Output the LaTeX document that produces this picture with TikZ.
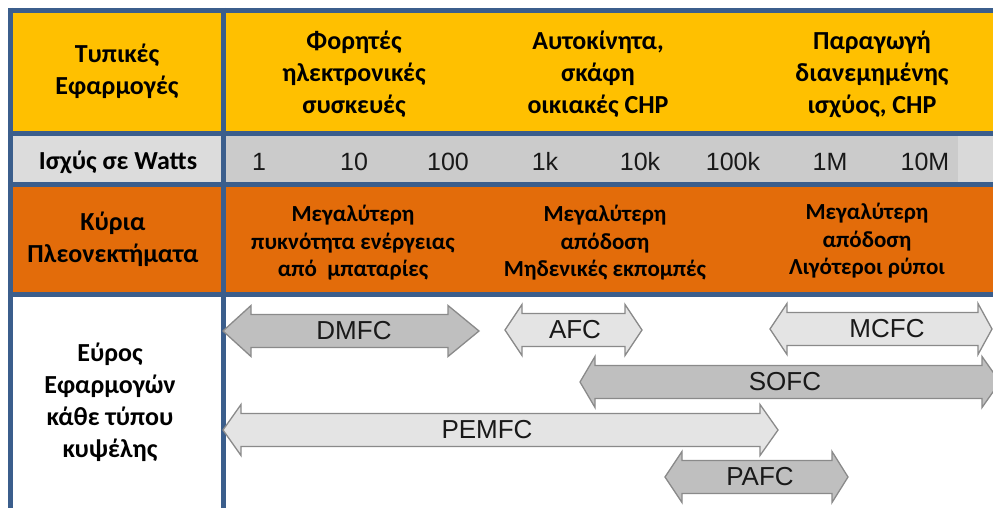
\documentclass[tikz,border=0pt]{standalone}
\usepackage{fontspec}
\setmainfont{Carlito}
\newfontfamily\arialf{Liberation Sans}
\definecolor{yel}{HTML}{FFC000}
\definecolor{org}{HTML}{E36C0A}
\definecolor{bl}{HTML}{3B5E8C}
\definecolor{greyL}{HTML}{DCDCDC}
\definecolor{greyD}{HTML}{CBCBCB}
\definecolor{greyR}{HTML}{D9D9D9}
\definecolor{arrD}{HTML}{BFBFBF}
\definecolor{arrL}{HTML}{E4E4E4}
\definecolor{arrO}{HTML}{8A8A8A}
\newcommand{\fcarrow}[6]{%
  \draw[#6] (#1,#3) -- ({#1+#4},{#3-25.5}) -- ({#1+#4},{#3-16.5}) -- ({#2-#5},{#3-16.5}) -- ({#2-#5},{#3-25.5}) -- (#2,#3) -- ({#2-#5},{#3+25.5}) -- ({#2-#5},{#3+16.5}) -- ({#1+#4},{#3+16.5}) -- ({#1+#4},{#3+25.5}) -- cycle;}
\begin{document}
\begin{tikzpicture}[x=1pt,y=-1pt,
  bline/.style={bl,line width=5pt},
  big/.style={font=\bfseries\fontsize{26}{32}\selectfont,align=center,inner sep=0pt,text=black},
  mid/.style={font=\bfseries\fontsize{23}{27.5}\selectfont,align=center,inner sep=0pt,text=black},
  num/.style={font=\arialf\fontsize{25}{30}\selectfont,inner sep=0pt,anchor=base,text=black!90},
  lab/.style={font=\arialf\fontsize{26}{30}\selectfont,inner sep=0pt,text=black!90},
  darr/.style={fill=arrD,draw=arrO,line width=1.3pt,line join=miter},
  larr/.style={fill=arrL,draw=arrO,line width=1.3pt,line join=miter}]
\useasboundingbox (0,0) rectangle (993,508);
% backgrounds
\fill[yel] (8,8) rectangle (993,134);
\fill[greyL] (8,134) rectangle (222,184);
\fill[greyD] (222,134) rectangle (958,184);
\fill[greyR] (958,134) rectangle (993,184);
\fill[org] (8,184) rectangle (993,294);
% grid lines
\draw[bline] (10.5,8) -- (10.5,508);
\draw[bline] (223.5,8) -- (223.5,508);
\draw[bline] (8,10.5) -- (993,10.5);
\draw[bline] (8,134) -- (993,134);
\draw[bline] (8,184.5) -- (993,184.5);
\draw[bline] (8,294.5) -- (993,294.5);
% row 1
\node[big] (t1) at (117,71) {Τυπικές\\Εφαρμογές};
\node[big] (a1) at (354,74) {Φορητές\\ηλεκτρονικές\\συσκευές};
\node[big] (a2) at (598,74) {Αυτοκίνητα,\\σκάφη\\οικιακές CHP};
\node[big] (a3) at (872,74) {Παραγωγή\\διανεμημένης\\ισχύος, CHP};
% row 2
\node[big,anchor=base] (t2) at (118,169) {Ισχύς σε Watts};
\node[num] (n1) at (259,170) {1};
\node[num] (n2) at (354,170) {10};
\node[num] (n3) at (448,170) {100};
\node[num] (n4) at (545,170) {1k};
\node[num] (n5) at (640,170) {10k};
\node[num] (n6) at (733,170) {100k};
\node[num] (n7) at (830,170) {1M};
\node[num] (n8) at (925,170) {10M};
% row 3
\node[big] (t3) at (113,239) {Κύρια\\Πλεονεκτήματα};
\node[mid] (b1) at (353,243) {Μεγαλύτερη\\πυκνότητα ενέργειας\\από\ \ μπαταρίες};
\node[mid] (b2) at (605,243) {Μεγαλύτερη\\απόδοση\\Μηδενικές εκπομπές};
\node[mid] (b3) at (867,241) {Μεγαλύτερη\\απόδοση\\Λιγότεροι ρύποι};
% row 4
\node[big] (t4) at (110,402) {Εύρος\\Εφαρμογών\\κάθε τύπου\\κυψέλης};
% arrows
\fcarrow{223}{479}{331}{28}{31}{darr}
\fcarrow{505}{642}{330}{17}{17}{larr}
\fcarrow{770}{992}{329}{17}{14}{larr}
\fcarrow{580}{1000}{382}{15}{18}{darr}
\fcarrow{223}{778}{430}{18}{18}{larr}
\fcarrow{665}{848}{477}{17}{16}{darr}
\node[lab] (l1) at (354,331) {DMFC};
\node[lab] (l2) at (575,330) {AFC};
\node[lab] (l3) at (887,329) {MCFC};
\node[lab] (l4) at (785,382) {SOFC};
\node[lab] (l5) at (487,430) {PEMFC};
\node[lab] (l6) at (760,477) {PAFC};
\end{tikzpicture}
\end{document}
